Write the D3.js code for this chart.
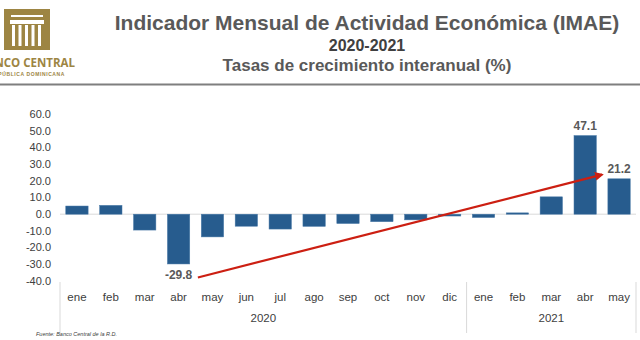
<!DOCTYPE html>
<html lang="es">
<head>
<meta charset="UTF-8">
<title>IMAE 2020-2021</title>
<style>
  body, html { margin: 0; padding: 0; background: #fff; overflow: hidden; }
  svg { display: block; font-family: "Liberation Sans", Arial, sans-serif; }
</style>
</head>
<body>
<svg id="chart" width="640" height="340"></svg>
<script src="https://cdnjs.cloudflare.com/ajax/libs/d3/7.8.5/d3.min.js"></script>
<script>
// data
const months = ["ene","feb","mar","abr","may","jun","jul","ago","sep","oct","nov","dic","ene","feb","mar","abr","may"];
const years = ["2020","2021"];
const yearCounts = [12, 5];
const values = [4.9, 5.3, -9.5, -29.8, -13.6, -7.2, -8.9, -7.3, -5.6, -4.5, -3.4, -1.1, -2.0, 0.8, 10.4, 47.1, 21.2];
const labelled = [3, 15, 16];   // indices with value labels
const yTicks = [60, 50, 40, 30, 20, 10, 0, -10, -20, -30, -40];
const arrowFrom = [4.07, -37.9]; // [category position, value]
const arrowTo = [16.0, 23.7];

const svg = d3.select("#chart");
const grey = "#595959";
const gold = "#9d8543";
const fmt = d => d.toFixed(1); // plain hyphen for negatives

// ---- logo (partly cut at the left edge) ----
const logo = svg.append("g");
logo.append("rect").attr("x", 4).attr("y", 9).attr("width", 46).attr("height", 41).attr("fill", gold);
logo.append("rect").attr("x", 11).attr("y", 15).attr("width", 32).attr("height", 2).attr("fill", "#fff");
logo.append("rect").attr("x", 10).attr("y", 20).attr("width", 34).attr("height", 4).attr("fill", "#fff");
d3.range(5).forEach(i => {
  logo.append("rect").attr("x", 12 + i * 6.5).attr("y", 25).attr("width", 3).attr("height", 21).attr("fill", "#fff");
});
logo.append("text").attr("x", 75).attr("y", 67).attr("text-anchor", "end")
  .attr("font-size", 11.5).attr("font-weight", "bold").attr("fill", gold)
  .attr("font-family", "'Open Sans', sans-serif").text("BANCO CENTRAL");
logo.append("text").attr("x", 65).attr("y", 76).attr("text-anchor", "end")
  .attr("font-size", 5).attr("font-weight", "bold").attr("fill", gold).attr("letter-spacing", 0.6)
  .text("REPÚBLICA DOMINICANA");

// ---- titles ----
svg.append("text").attr("x", 367).attr("y", 30).attr("text-anchor", "middle")
  .attr("font-size", 21).attr("font-weight", "bold").attr("fill", grey)
  .text("Indicador Mensual de Actividad Económica (IMAE)");
svg.append("text").attr("x", 367).attr("y", 51).attr("text-anchor", "middle")
  .attr("font-size", 16).attr("font-weight", "bold").attr("fill", "#404040")
  .text("2020-2021");
svg.append("text").attr("x", 367).attr("y", 71).attr("text-anchor", "middle")
  .attr("font-size", 17).attr("font-weight", "bold").attr("fill", grey)
  .text("Tasas de crecimiento interanual (%)");
svg.append("line").attr("x1", 0).attr("x2", 640).attr("y1", 84.5).attr("y2", 84.5)
  .attr("stroke", "#7f7f7f").attr("stroke-width", 2);

// ---- scales ----
const x = d3.scaleBand().domain(d3.range(months.length)).range([60, 636]).paddingInner(0.34).paddingOuter(0.17);
const xPos = d3.scaleLinear().domain([0, months.length]).range([60, 636]);
const y = d3.scaleLinear().domain([-40, 60]).range([281, 114]);

// y axis labels
svg.append("g").selectAll("text").data(yTicks).join("text")
  .attr("x", 51).attr("y", d => y(d)).attr("dy", "0.35em").attr("text-anchor", "end")
  .attr("font-size", 11).attr("fill", "#404040")
  .text(fmt);

// zero line
svg.append("line").attr("x1", 60).attr("x2", 636).attr("y1", y(0)).attr("y2", y(0))
  .attr("stroke", "#d9d9d9").attr("stroke-width", 1);

// bars
svg.append("g").selectAll("rect").data(values).join("rect")
  .attr("x", (d, i) => x(i))
  .attr("width", x.bandwidth())
  .attr("y", d => y(Math.max(0, d)))
  .attr("height", d => Math.abs(y(d) - y(0)))
  .attr("fill", "#275c8e")
  .attr("stroke", "#4a7aa8").attr("stroke-width", 0.5);

// value labels
svg.append("g").selectAll("text").data(labelled).join("text")
  .attr("x", i => x(i) + x.bandwidth() / 2)
  .attr("y", i => values[i] < 0 ? y(values[i]) + 15 : y(values[i]) - 6)
  .attr("text-anchor", "middle")
  .attr("font-size", 12).attr("font-weight", "bold").attr("fill", grey)
  .text(i => fmt(values[i]));

// x axis: month labels
svg.append("g").selectAll("text").data(months).join("text")
  .attr("x", (d, i) => x(i) + x.bandwidth() / 2).attr("y", 301)
  .attr("text-anchor", "middle").attr("font-size", 11.5).attr("fill", "#404040")
  .text(d => d);

// year groups and separators
let start = 0;
const bounds = [0];
years.forEach((yr, k) => {
  const end = start + yearCounts[k];
  svg.append("text").attr("x", (xPos(start) + xPos(end)) / 2).attr("y", 322)
    .attr("text-anchor", "middle").attr("font-size", 11.5).attr("fill", "#404040").text(yr);
  bounds.push(end);
  start = end;
});
svg.append("g").selectAll("line").data(bounds).join("line")
  .attr("x1", d => xPos(d)).attr("x2", d => xPos(d))
  .attr("y1", 282).attr("y2", 333)
  .attr("stroke", "#d9d9d9").attr("stroke-width", 1);

// arrow
svg.append("defs").append("marker")
  .attr("id", "head").attr("viewBox", "0 0 10 10").attr("refX", 8).attr("refY", 5)
  .attr("markerWidth", 4).attr("markerHeight", 4).attr("orient", "auto")
  .append("path").attr("d", "M0,0 L10,5 L0,10 z").attr("fill", "#cc1f12");
svg.append("line")
  .attr("x1", xPos(arrowFrom[0])).attr("y1", y(arrowFrom[1]))
  .attr("x2", xPos(arrowTo[0])).attr("y2", y(arrowTo[1]))
  .attr("stroke", "#cc1f12").attr("stroke-width", 2.2)
  .attr("marker-end", "url(#head)");

// source
svg.append("text").attr("x", 36).attr("y", 336).attr("font-size", 5.5).attr("font-style", "italic")
  .attr("fill", "#404040").text("Fuente: Banco Central de la R.D.");
</script>
</body>
</html>
